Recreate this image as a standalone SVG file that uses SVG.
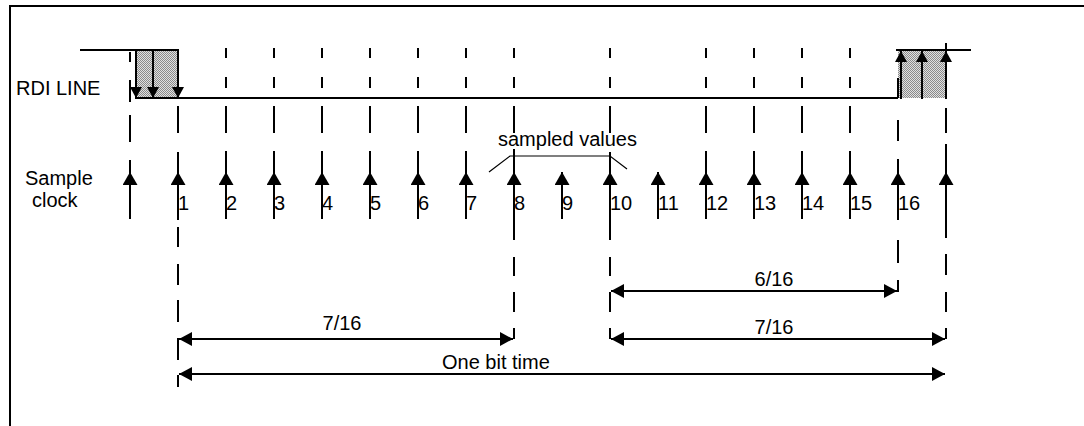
<svg xmlns="http://www.w3.org/2000/svg" width="1084" height="426" viewBox="0 0 1084 426">
<style>
.ln{stroke:#000;stroke-width:2;fill:none}
.thin{stroke:#000;stroke-width:1.2;fill:none}
text{font-family:"Liberation Sans",Arial,sans-serif;font-size:20px;fill:#000}
.mid{text-anchor:middle}
</style>
<defs>
<pattern id="stip" width="2" height="2" patternUnits="userSpaceOnUse">
<rect width="2" height="2" fill="#e0e0e0"/>
<rect width="1" height="1" fill="#8a8a8a"/>
<rect x="1" y="1" width="1" height="1" fill="#8a8a8a"/>
</pattern>
<marker id="dim" markerUnits="userSpaceOnUse" markerWidth="14" markerHeight="14" refX="13" refY="7" orient="auto-start-reverse">
<path d="M0,0 L13,7 L0,14 z" fill="#000"/>
</marker>
<marker id="clk" markerUnits="userSpaceOnUse" markerWidth="14" markerHeight="16" refX="13" refY="7.5" orient="auto">
<path d="M0,0 L13,7.5 L0,15 z" fill="#000"/>
</marker>
<marker id="edge" markerUnits="userSpaceOnUse" markerWidth="12" markerHeight="12" refX="11" refY="6" orient="auto">
<path d="M0,0 L11,6 L0,12 z" fill="#000"/>
</marker>
</defs>

<g id="frame">
<path class="ln" d="M9,6 H1084 M10,5 V426"/>
</g>

<g id="rdi-line">
<rect x="135" y="50" width="43" height="48" fill="url(#stip)"/>
<rect x="898" y="50" width="48" height="48" fill="url(#stip)"/>
<path class="ln" d="M80,50 H178 V98 M135,98 H898 M896,50 H971"/>
<line class="ln" x1="136" y1="50" x2="136" y2="98" marker-end="url(#edge)"/>
<line class="ln" x1="153" y1="50" x2="153" y2="98" marker-end="url(#edge)"/>
<line class="ln" x1="178" y1="60" x2="178" y2="98" marker-end="url(#edge)"/>
<line class="ln" x1="901" y1="99" x2="901" y2="51" marker-end="url(#edge)"/>
<line class="ln" x1="922" y1="99" x2="922" y2="51" marker-end="url(#edge)"/>
<line class="ln" x1="946" y1="99" x2="946" y2="51" marker-end="url(#edge)"/>
<line class="ln" x1="946" y1="43" x2="946" y2="60"/>
<text x="16" y="95">RDI LINE</text>
</g>

<g id="sample-clock">
<text x="25" y="185">Sample</text>
<text x="32" y="207">clock</text>
<g id="col0"><path class="ln" d="M130,52 V62 M130,80 V102 M130,115 V142 M130,160 V175"/><line class="ln" x1="130" y1="219" x2="130" y2="172" marker-end="url(#clk)"/></g>
<g id="col1"><path class="ln" d="M178,106 V133 M178,152 V175 M178,219 V220 M178,227 V247 M178,264 V285 M178,300 V322 M178,338 V360 M178,375 V387"/><line class="ln" x1="178" y1="219" x2="178" y2="172" marker-end="url(#clk)"/><text x="178" y="210">1</text></g>
<g id="col2"><path class="ln" d="M226,48 V58 M226,77 V88 M226,106 V133 M226,151 V172"/><line class="ln" x1="226" y1="219" x2="226" y2="172" marker-end="url(#clk)"/><text x="226" y="210">2</text></g>
<g id="col3"><path class="ln" d="M274,48 V58 M274,77 V88 M274,106 V133 M274,151 V172"/><line class="ln" x1="274" y1="219" x2="274" y2="172" marker-end="url(#clk)"/><text x="274" y="210">3</text></g>
<g id="col4"><path class="ln" d="M322,48 V58 M322,77 V88 M322,106 V133 M322,151 V172"/><line class="ln" x1="322" y1="219" x2="322" y2="172" marker-end="url(#clk)"/><text x="322" y="210">4</text></g>
<g id="col5"><path class="ln" d="M370,48 V58 M370,77 V88 M370,106 V133 M370,151 V172"/><line class="ln" x1="370" y1="219" x2="370" y2="172" marker-end="url(#clk)"/><text x="370" y="210">5</text></g>
<g id="col6"><path class="ln" d="M418,48 V58 M418,77 V88 M418,106 V133 M418,151 V172"/><line class="ln" x1="418" y1="219" x2="418" y2="172" marker-end="url(#clk)"/><text x="418" y="210">6</text></g>
<g id="col7"><path class="ln" d="M466,48 V58 M466,77 V88 M466,106 V133 M466,151 V172"/><line class="ln" x1="466" y1="219" x2="466" y2="172" marker-end="url(#clk)"/><text x="466" y="210">7</text></g>
<g id="col8"><path class="ln" d="M514,48 V58 M514,77 V88 M514,106 V133 M514,149 V172 M514,219 V240 M514,257 V276 M514,292 V312 M514,328 V339"/><line class="ln" x1="514" y1="219" x2="514" y2="172" marker-end="url(#clk)"/><text x="514" y="210">8</text></g>
<g id="col9"><line class="ln" x1="562" y1="219" x2="562" y2="172" marker-end="url(#clk)"/><text x="562" y="210">9</text></g>
<g id="col10"><path class="ln" d="M610,48 V58 M610,77 V88 M610,106 V133 M610,152 V172 M610,219 V240 M610,257 V276 M610,292 V312 M610,328 V339"/><line class="ln" x1="610" y1="219" x2="610" y2="172" marker-end="url(#clk)"/><text x="610" y="210">10</text></g>
<g id="col11"><line class="ln" x1="658" y1="219" x2="658" y2="172" marker-end="url(#clk)"/><text x="658" y="210">11</text></g>
<g id="col12"><path class="ln" d="M706,48 V58 M706,77 V88 M706,106 V133 M706,151 V172"/><line class="ln" x1="706" y1="219" x2="706" y2="172" marker-end="url(#clk)"/><text x="706" y="210">12</text></g>
<g id="col13"><path class="ln" d="M754,48 V58 M754,77 V88 M754,106 V133 M754,151 V172"/><line class="ln" x1="754" y1="219" x2="754" y2="172" marker-end="url(#clk)"/><text x="754" y="210">13</text></g>
<g id="col14"><path class="ln" d="M802,48 V58 M802,77 V88 M802,106 V133 M802,151 V172"/><line class="ln" x1="802" y1="219" x2="802" y2="172" marker-end="url(#clk)"/><text x="802" y="210">14</text></g>
<g id="col15"><path class="ln" d="M850,48 V58 M850,77 V88 M850,106 V133 M850,151 V172"/><line class="ln" x1="850" y1="219" x2="850" y2="172" marker-end="url(#clk)"/><text x="850" y="210">15</text></g>
<g id="col16"><path class="ln" d="M898,78 V98 M898,120 V141 M898,159 V175 M898,219 V220 M898,240 V263 M898,280 V292"/><line class="ln" x1="898" y1="219" x2="898" y2="172" marker-end="url(#clk)"/><text x="898" y="210">16</text></g>
<g id="col17"><path class="ln" d="M946,108 V133 M946,144 V172 M946,219 V238 M946,254 V275 M946,292 V312 M946,328 V339"/><line class="ln" x1="946" y1="219" x2="946" y2="172" marker-end="url(#clk)"/></g>
</g>

<g id="sampled-values">
<path class="thin" d="M489,172 L510,156 H610 L627,169"/>
<text x="498" y="146">sampled values</text>
</g>

<g id="connectors">
<line class="ln" x1="179" y1="339" x2="513" y2="339" marker-start="url(#dim)" marker-end="url(#dim)"/>
<line class="ln" x1="611" y1="291" x2="897" y2="291" marker-start="url(#dim)" marker-end="url(#dim)"/>
<line class="ln" x1="611" y1="339" x2="945" y2="339" marker-start="url(#dim)" marker-end="url(#dim)"/>
<line class="ln" x1="179" y1="374" x2="945" y2="374" marker-start="url(#dim)" marker-end="url(#dim)"/>
<text class="mid" x="342" y="330">7/16</text>
<text class="mid" x="774" y="286">6/16</text>
<text class="mid" x="774" y="334">7/16</text>
<text x="442" y="369">One bit time</text>
</g>
</svg>
